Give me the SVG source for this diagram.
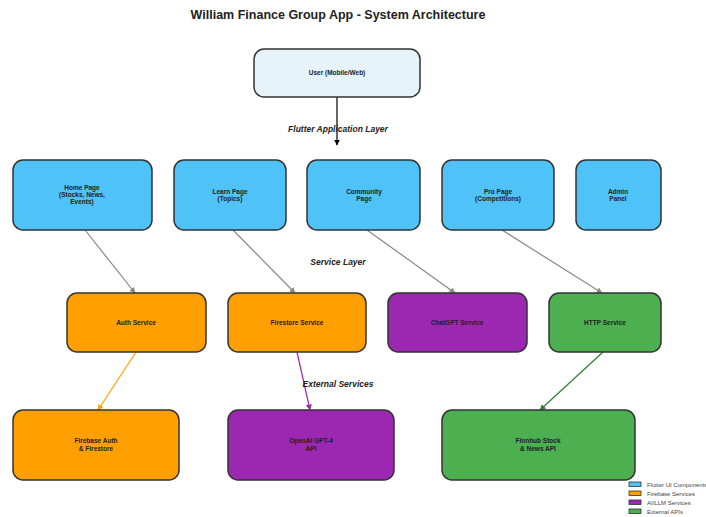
<svg xmlns="http://www.w3.org/2000/svg" width="706" height="517" viewBox="0 0 706 517">
<style>
.box{stroke:#333;stroke-width:1.5}
.ui{fill:#4FC3F7}
.fb{fill:#FFA000}
.ai{fill:#9C27B0}
.ex{fill:#4CAF50}
.usr{fill:#E6F3F8}
.t{font-family:"Liberation Sans",Arial,sans-serif;font-size:6.5px;font-weight:bold;fill:#222;text-anchor:middle}
.lay{font-family:"Liberation Sans",Arial,sans-serif;font-size:8.5px;font-weight:bold;font-style:italic;fill:#222;text-anchor:middle}
.leg{font-family:"Liberation Sans",Arial,sans-serif;font-size:6px;fill:#444}
.lb{stroke:#333;stroke-width:0.8}
</style>
<defs>
<marker id="ag" viewBox="0 0 10 10" refX="9" refY="5" markerWidth="5" markerHeight="5" orient="auto"><path d="M0,0L10,5L0,10z" fill="#888"/></marker>
<marker id="ak" viewBox="0 0 10 10" refX="9" refY="5" markerWidth="5" markerHeight="5" orient="auto"><path d="M0,0L10,5L0,10z" fill="#000"/></marker>
<marker id="ao" viewBox="0 0 10 10" refX="9" refY="5" markerWidth="5" markerHeight="5" orient="auto"><path d="M0,0L10,5L0,10z" fill="#FFA000"/></marker>
<marker id="ap" viewBox="0 0 10 10" refX="9" refY="5" markerWidth="5" markerHeight="5" orient="auto"><path d="M0,0L10,5L0,10z" fill="#9C27B0"/></marker>
<marker id="ae" viewBox="0 0 10 10" refX="9" refY="5" markerWidth="5" markerHeight="5" orient="auto"><path d="M0,0L10,5L0,10z" fill="#2E7D32"/></marker>
</defs>
<rect width="706" height="517" fill="#fff"/>
<text x="338" y="19" font-family="Liberation Sans,Arial,sans-serif" font-size="12.5" font-weight="bold" fill="#222" text-anchor="middle">William Finance Group App - System Architecture</text>

<g id="connectors" fill="none">
<line x1="337" y1="97" x2="337" y2="145" stroke="#000" stroke-width="1.2" marker-end="url(#ak)"/>
<line x1="85" y1="230" x2="135" y2="293" stroke="#888" stroke-width="1.2" marker-end="url(#ag)"/>
<line x1="233" y1="230" x2="295" y2="293" stroke="#888" stroke-width="1.2" marker-end="url(#ag)"/>
<line x1="367" y1="230" x2="455" y2="293" stroke="#888" stroke-width="1.2" marker-end="url(#ag)"/>
<line x1="502" y1="230" x2="602" y2="293" stroke="#888" stroke-width="1.2" marker-end="url(#ag)"/>
<line x1="136" y1="352" x2="98" y2="410" stroke="#FFA000" stroke-width="1.2" marker-end="url(#ao)"/>
<line x1="297" y1="352" x2="310" y2="410" stroke="#9C27B0" stroke-width="1.2" marker-end="url(#ap)"/>
<line x1="603" y1="352" x2="540" y2="410" stroke="#2E7D32" stroke-width="1.2" marker-end="url(#ae)"/>
</g>

<text class="lay" x="338" y="132">Flutter Application Layer</text>
<text class="lay" x="338" y="265">Service Layer</text>
<text class="lay" x="338" y="387">External Services</text>

<g id="user"><rect class="box usr" x="254" y="49" width="166" height="48" rx="10"/><text class="t" x="337" y="75">User (Mobile/Web)</text></g>

<g id="home"><rect class="box ui" x="13" y="160" width="139" height="70" rx="10"/><text class="t" x="82" y="190">Home Page</text><text class="t" x="82" y="197">(Stocks, News,</text><text class="t" x="82" y="204">Events)</text></g>
<g id="learn"><rect class="box ui" x="174" y="160" width="112" height="70" rx="10"/><text class="t" x="230" y="194">Learn Page</text><text class="t" x="230" y="201">(Topics)</text></g>
<g id="community"><rect class="box ui" x="307" y="160" width="113" height="70" rx="10"/><text class="t" x="364" y="194">Community</text><text class="t" x="364" y="201">Page</text></g>
<g id="pro"><rect class="box ui" x="442" y="160" width="112" height="70" rx="10"/><text class="t" x="498" y="194">Pro Page</text><text class="t" x="498" y="201">(Competitions)</text></g>
<g id="admin"><rect class="box ui" x="576" y="160" width="85" height="70" rx="10"/><text class="t" x="618" y="194">Admin</text><text class="t" x="618" y="201">Panel</text></g>

<g id="auth"><rect class="box fb" x="67" y="293" width="139" height="59" rx="10"/><text class="t" x="136" y="325">Auth Service</text></g>
<g id="firestore"><rect class="box fb" x="228" y="293" width="138" height="59" rx="10"/><text class="t" x="297" y="325">Firestore Service</text></g>
<g id="chatgpt"><rect class="box ai" x="388" y="293" width="139" height="59" rx="10"/><text class="t" x="457" y="325">ChatGPT Service</text></g>
<g id="http"><rect class="box ex" x="549" y="293" width="112" height="59" rx="10"/><text class="t" x="605" y="325">HTTP Service</text></g>

<g id="firebase"><rect class="box fb" x="13" y="410" width="166" height="70" rx="10"/><text class="t" x="96" y="443">Firebase Auth</text><text class="t" x="96" y="451">&amp; Firestore</text></g>
<g id="openai"><rect class="box ai" x="228" y="410" width="166" height="70" rx="10"/><text class="t" x="311" y="443">OpenAI GPT-4</text><text class="t" x="311" y="451">API</text></g>
<g id="finnhub"><rect class="box ex" x="442" y="410" width="193" height="70" rx="10"/><text class="t" x="538" y="443">Finnhub Stock</text><text class="t" x="538" y="451">&amp; News API</text></g>

<g id="legend">
<rect class="lb ui" x="629" y="482" width="12" height="4.5"/><text class="leg" x="647" y="486.5">Flutter UI Components</text>
<rect class="lb fb" x="629" y="491" width="12" height="4.5"/><text class="leg" x="647" y="495.5">Firebase Services</text>
<rect class="lb ai" x="629" y="500" width="12" height="4.5"/><text class="leg" x="647" y="504.5">AI/LLM Services</text>
<rect class="lb ex" x="629" y="509" width="12" height="4.5"/><text class="leg" x="647" y="513.5">External APIs</text>
</g>
</svg>
